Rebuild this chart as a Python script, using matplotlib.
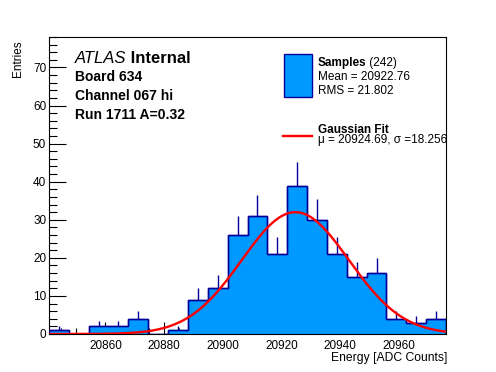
import numpy as np
import matplotlib
matplotlib.use('Agg')
import matplotlib.pyplot as plt
from matplotlib.patches import Rectangle
from matplotlib.lines import Line2D
from matplotlib.ticker import MultipleLocator

plt.rcParams['font.family'] = ['Liberation Sans', 'DejaVu Sans']

# Datos del histograma (20 bins)
x_min, x_max = 20840.8, 20976.0
cuentas = [1, 0, 2, 2, 4, 0, 1, 9, 12, 26, 31, 21, 39, 30, 21, 15, 16, 4, 3, 4]
n_entradas = 242
media, rms = 20922.76, 21.802

# Parametros del ajuste gaussiano
mu, sigma, amplitud = 20924.69, 18.256, 32.0

azul = '#0099ff'
azul_osc = '#000099'

W, H = 496, 372
fig = plt.figure(figsize=(W / 100, H / 100), dpi=100)

def fx(px):
    return px / W

def fy(py):
    return 1 - py / H

ax = fig.add_axes([fx(49), fy(334), fx(446) - fx(49), fy(37) - fy(334)])

bordes = np.linspace(x_min, x_max, len(cuentas) + 1)
cuentas = np.array(cuentas, dtype=float)
centros = 0.5 * (bordes[:-1] + bordes[1:])

ax.stairs(cuentas, bordes, fill=True, facecolor=azul, edgecolor=azul_osc,
          linewidth=1.0, baseline=0, zorder=2)
ax.stairs(cuentas, bordes, fill=False, color=azul_osc, linewidth=1.0, zorder=3)

# Barras de error (solo parte superior visible)
con = cuentas > 0
ax.vlines(centros[con], cuentas[con], cuentas[con] + np.sqrt(cuentas[con]),
          color=azul_osc, linewidth=1.0, zorder=3)

# Curva del ajuste
xs = np.linspace(x_min, x_max, 500)
ys = amplitud * np.exp(-0.5 * ((xs - mu) / sigma) ** 2)
ax.plot(xs, ys, color='red', linewidth=1.7, zorder=4)

ax.set_xlim(x_min, x_max)
ax.set_ylim(0, 78)

ax.xaxis.set_major_locator(MultipleLocator(20))
ax.xaxis.set_minor_locator(MultipleLocator(5))
ax.yaxis.set_major_locator(MultipleLocator(10))
ax.yaxis.set_minor_locator(MultipleLocator(2))
ax.tick_params(axis='both', which='both', direction='in', labelsize=8.5,
               width=0.8, color='black')
ax.tick_params(axis='x', which='major', length=9, pad=4.5)
ax.tick_params(axis='x', which='minor', length=4.5)
ax.tick_params(axis='y', which='major', length=12, pad=2)
ax.tick_params(axis='y', which='minor', length=6)
ax.tick_params(top=False, right=False)
for s in ax.spines.values():
    s.set_linewidth(0.8)

fig.text(fx(447), fy(357.5), 'Energy [ADC Counts]', ha='right', va='center', fontsize=8.7)
fig.text(fx(18), fy(40), 'Entries', rotation=90, ha='center', va='top', fontsize=8.5)

# Textos ATLAS
t = fig.text(fx(75), fy(63), 'ATLAS', style='italic', fontsize=12, va='baseline')
ax.annotate(' Internal', xy=(1, 0), xycoords=t, fontsize=12, weight='bold',
            va='bottom', ha='left')
for texto, yy in [('Board 634', 81), ('Channel 067 hi', 100), ('Run 1711 A=0.32', 119)]:
    fig.text(fx(75), fy(yy), texto, fontsize=10, weight='bold', va='baseline')

# Leyenda manual
fig.patches.append(Rectangle((fx(283.5), fy(96.5)), fx(311.5) - fx(283.5), fy(53.5) - fy(96.5),
                             transform=fig.transFigure, facecolor=azul,
                             edgecolor=azul_osc, linewidth=1.0))
fig.lines.append(Line2D([fx(283), fx(312)], [fy(136), fy(136)], transform=fig.transFigure,
                        color='red', linewidth=1.7))
ts = fig.text(fx(317.7), fy(65.7), 'Samples', fontsize=8.5, weight='bold', va='baseline')
ax.annotate(f' ({n_entradas})', xy=(1, 0), xycoords=ts, fontsize=8.5, va='bottom', ha='left')
fig.text(fx(317.7), fy(80), f'Mean = {media:.2f}', fontsize=8.5, va='baseline')
fig.text(fx(317.7), fy(94), f'RMS = {rms:.3f}', fontsize=8.5, va='baseline')
fig.text(fx(317.7), fy(132.7), 'Gaussian Fit', fontsize=8.5, weight='bold', va='baseline')
fig.text(fx(317.7), fy(143.5), f'\u03bc = {mu:.2f}, \u03c3 ={sigma:.3f}', fontsize=8.5, va='baseline')

fig.savefig('out.png', dpi=100)
